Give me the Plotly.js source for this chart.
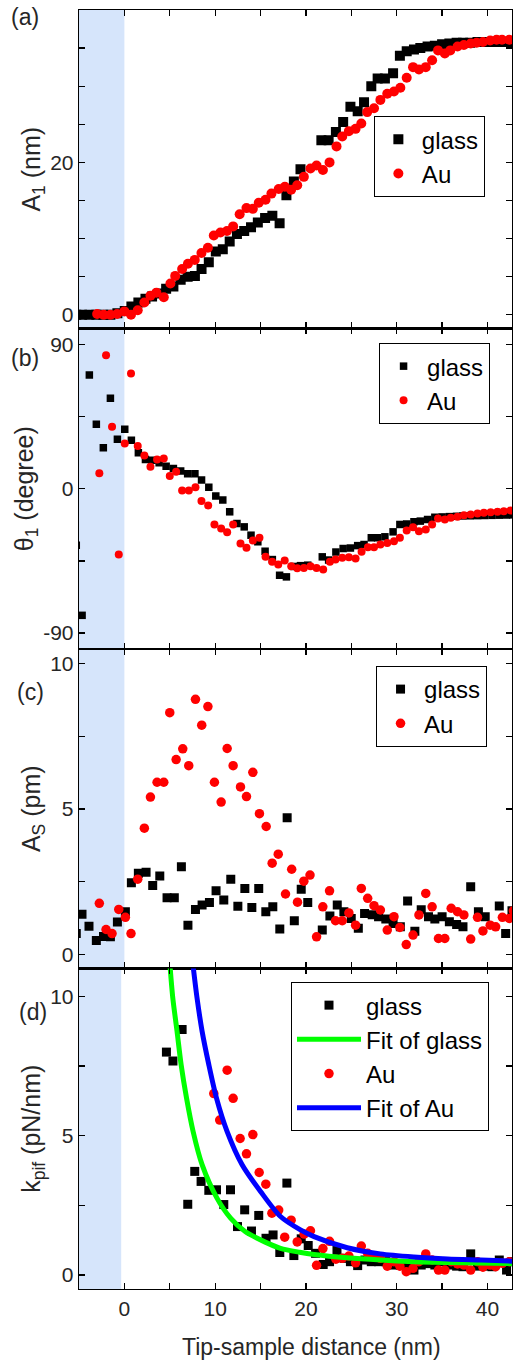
<!DOCTYPE html>
<html>
<head>
<meta charset="utf-8">
<script src="https://cdn.plot.ly/plotly-3.0.1.min.js"></script>
<style>
html,body{margin:0;padding:0;background:#fff;}
#chart{width:513px;height:1361px;}
</style>
</head>
<body>
<div id="chart"></div>
<script>
// ---------------- data ----------------
// Panel (a): A1 (nm)
const glassA_x = [-5.3,-4.66,-3.86,-3.09,-2.32,-1.54,-0.77,0.04,0.77,1.54,2.32,3.05,3.83,4.6,5.4,6.2,6.97,7.77,8.5,9.3,10.07,10.84,11.6,12.4,13.2,13.95,14.7,15.5,16.3,17.1,17.85,18.67,19.4,21.7,22.5,23.3,24.1,24.9,25.7,26.4,27.2,27.9,28.7,29.6,30.35,31.1,31.9,32.6,33.4,34.2,35.0,35.8,36.6,37.3,38.1,38.9,39.7,40.5,41.3,42.1,42.8];
const glassA_y = [0,0,0,0,0,0,0.2,0.5,1.1,1.6,2.1,2.4,2.8,3.4,3.7,4.6,5.0,5.1,6.0,6.9,8.3,8.6,9.6,10.6,11.0,11.5,12.1,12.7,13.0,12.0,15.7,17.5,19.1,22.9,22.9,24.0,25.3,27.3,26.7,27.9,30.0,31.0,31.0,31.7,34.0,34.6,34.8,35.0,35.2,35.3,35.5,35.6,35.7,35.7,35.7,35.8,35.8,35.8,35.8,35.8,35.8];
const auA_x = [-3.0,-2.28,-1.54,-0.8,0.0,0.73,1.47,2.2,2.87,3.53,4.34,5.07,5.6,6.36,7.0,7.75,8.49,9.2,9.85,10.58,11.3,11.98,12.7,13.45,14.15,14.8,15.55,16.2,17.0,17.68,18.37,19.04,19.77,20.5,21.17,21.87,22.6,23.37,24.0,24.73,25.47,26.1,26.75,27.5,28.2,28.96,29.7,30.4,31.1,31.8,32.45,33.2,33.9,34.55,35.3,35.9,36.7,37.4,38.15,38.8,39.5,40.3,41.0,41.6,42.4];
const auA_y = [0.1,0,0,0.1,0.44,0,0.6,1.6,2.5,2.9,2.3,4.1,5.1,6.0,6.7,7.2,8.1,8.8,10.4,10.8,11.0,11.6,13.2,14.0,13.9,14.7,15.1,15.9,16.5,16.8,16.4,17.0,18.1,19.2,19.6,19.0,20.0,22.1,23.4,24.1,24.4,25.1,26.6,27.1,28.2,29.0,29.3,29.8,31.1,32.5,32.2,32.5,33.4,34.7,34.3,34.7,35.2,35.4,35.6,35.7,35.8,36.0,36.1,36.1,36.1];

// Panel (b): theta1 (degree)
const glassB_x = [-5.3,-4.66,-3.86,-3.09,-2.32,-1.54,-0.77,0.04,0.77,1.54,2.32,3.05,3.83,4.6,5.4,6.2,6.97,7.77,8.5,9.3,10.07,10.84,11.6,12.4,13.2,13.95,14.7,15.5,16.3,17.1,17.85,18.67,19.4,20.2,21.8,22.5,23.3,24.1,24.9,25.7,26.4,27.2,27.9,28.7,29.6,30.35,31.1,31.9,32.6,33.4,34.2,35.0,35.8,36.6,37.3,38.1,38.9,39.7,40.5,41.3,42.1,42.8];
const glassB_y = [-35.3,-79.0,71.0,40.2,25.6,56.4,30.8,37.1,30.2,22.5,18.3,17.7,16.2,14.1,12.7,11.0,9.4,9.4,5.4,1.0,-4.6,-7.1,-14.4,-21.7,-23.8,-29.0,-33.1,-39.0,-44.2,-54.0,-55.0,-48.5,-48.0,-47.7,-42.5,-44.5,-39.5,-37.3,-37.0,-35.5,-34.8,-30.6,-30.6,-30.0,-26.9,-22.3,-22.0,-20.6,-20.2,-19.2,-17.8,-17.6,-17.4,-17.2,-17.0,-16.9,-16.8,-16.7,-16.6,-16.5,-16.4,-16.3];
const auB_x = [-2.76,-2.02,-1.36,-0.62,0.04,0.73,1.47,2.2,2.87,3.6,4.34,5.0,5.7,6.36,7.1,7.83,8.49,9.23,9.92,10.66,11.32,11.98,12.79,13.45,14.15,14.88,15.55,16.28,16.95,17.66,18.38,19.04,19.77,20.5,21.17,21.9,22.64,23.26,24.0,24.73,25.47,26.13,26.83,27.5,28.2,28.96,29.7,30.35,31.1,31.8,32.45,33.2,33.9,34.55,35.3,35.95,36.7,37.4,38.15,38.9,39.6,40.35,41.1,41.8,42.55];
const auB_y = [9.6,83.3,38.7,-41.1,28.3,71.9,26.6,20.8,13.7,18.3,18.9,7.9,10.6,-1.1,-1.1,1.0,-7.7,-10.4,-22.3,-24.8,-27.1,-22.3,-34.2,-36.9,-32.3,-30.6,-42.5,-45.6,-47.3,-44.8,-48.4,-49.6,-49.4,-48.4,-49.4,-50.4,-45.6,-44.2,-43.1,-42.7,-43.6,-39.4,-36.5,-36.5,-34.8,-33.8,-32.7,-30.6,-26.1,-24.0,-26.5,-25.4,-22.3,-18.6,-19.2,-18.1,-17.5,-16.5,-16.1,-15.4,-15.0,-14.6,-14.4,-14.0,-13.6];

// Panel (c): A_S (pm)
const glassC_x = [-5.3,-4.67,-3.9,-3.09,-2.3,-1.54,-0.77,0.11,0.77,1.54,2.39,3.12,3.9,4.7,5.5,6.28,7.0,7.83,8.56,9.37,10.1,10.95,11.72,12.5,13.27,14.04,14.8,15.58,16.35,17.12,17.93,18.72,19.48,20.2,21.8,22.64,23.45,24.18,24.99,25.77,26.46,27.3,28.0,28.8,29.6,30.4,31.2,32.0,32.7,33.5,34.2,35.0,35.8,36.6,37.3,38.15,39.0,39.75,41.3,42.0,42.7];
const glassC_y = [0.72,1.38,0.97,0.48,0.62,0.61,1.12,1.47,2.47,2.79,2.83,2.37,2.70,1.95,1.95,3.02,1.01,1.55,1.70,1.79,2.19,1.87,2.59,1.66,2.27,1.62,2.27,1.47,1.64,0.88,4.70,1.16,2.24,1.79,0.84,1.32,1.70,1.47,1.24,0.90,1.41,1.37,1.30,1.22,1.07,0.95,1.84,0.80,1.54,1.30,1.22,1.30,1.13,1.03,0.95,2.33,1.47,1.30,1.67,0.72,1.50];
const auC_x = [-2.76,-2.02,-1.36,-0.62,0.11,0.73,1.47,2.2,2.87,3.6,4.34,5.0,5.7,6.43,7.09,7.83,8.52,9.2,9.92,10.66,11.32,11.98,12.79,13.45,14.15,14.88,15.62,16.28,16.95,17.75,18.43,19.07,19.77,20.45,21.17,21.86,22.6,23.26,24.0,24.73,25.47,26.1,26.8,27.5,28.2,28.96,29.7,30.35,31.05,31.8,32.45,33.2,33.9,34.6,35.3,36.0,36.7,37.4,38.15,38.9,39.5,40.3,40.9,41.64,42.4,42.85];
const auC_y = [1.76,0.86,0.72,1.55,1.28,0.72,2.59,4.34,5.41,5.92,5.92,8.31,6.7,7.07,6.49,8.77,7.88,8.52,5.92,5.24,7.08,6.49,5.76,5.43,6.26,4.84,4.40,3.14,3.45,2.08,2.93,1.80,2.52,2.73,0.61,1.64,2.19,1.16,1.16,1.43,1.01,2.27,1.93,1.68,1.53,0.84,1.30,0.93,0.34,0.67,1.36,2.10,1.64,0.55,0.55,1.59,1.47,1.36,0.53,1.28,0.81,1.01,0.95,1.28,1.24,1.50];

// Panel (d): k_pif (pN/nm)
const glassD_x = [4.63,5.35,6.36,6.98,7.75,8.45,9.3,10.15,10.95,11.69,12.46,13.25,14.0,14.8,15.6,16.38,17.12,17.9,18.67,19.48,20.25,21.06,21.9,22.6,23.42,24.2,24.9,25.7,26.5,27.2,28.0,28.8,29.6,30.4,31.2,31.9,32.7,33.5,34.2,35.0,35.8,36.6,37.3,38.15,38.9,39.7,40.5,41.3,42.1,42.7];
const glassD_y = [8.0,7.68,8.81,2.54,3.72,3.36,3.04,3.06,2.53,3.06,1.74,2.34,1.58,2.14,1.32,1.44,0.81,3.30,0.70,1.30,1.06,0.78,0.38,0.48,0.88,0.60,0.48,0.34,0.54,0.48,0.48,0.48,0.36,0.36,0.30,0.18,0.36,0.41,0.36,0.48,0.36,0.32,0.30,0.76,0.32,0.32,0.30,0.54,0.18,0.48];
const auD_x = [9.85,10.5,11.32,11.98,12.75,13.45,14.15,14.85,15.58,16.25,17.0,17.66,18.37,19.04,19.8,20.5,21.17,21.87,22.6,23.3,24.0,24.73,25.47,26.1,26.8,27.5,28.2,28.96,29.7,30.35,31.05,31.8,32.45,33.2,33.9,34.6,35.3,36.0,36.7,37.4,38.15,38.9,39.5,40.3,40.9,41.64,42.4];
const auD_y = [6.51,5.56,7.35,6.34,4.9,4.35,5.04,3.68,3.26,2.22,2.33,1.36,1.97,1.19,1.47,1.59,0.35,0.95,1.21,0.57,0.60,0.68,0.44,1.04,0.78,0.68,0.60,0.32,0.48,0.32,0.12,0.24,0.48,0.76,0.54,0.18,0.18,0.48,0.40,0.36,0.18,0.48,0.28,0.36,0.30,0.42,0.48];
const fitGlass_x = [5.0,5.33,5.8,6.25,6.84,7.57,8.56,10.2,11.7,13.3,15.4,17.2,19.3,20.9,24.55,28.2,31.9,35.5,39.0,42.7];
const fitGlass_y = [11.2,9.95,8.75,7.55,6.36,5.15,3.96,2.76,2.04,1.56,1.2,0.96,0.82,0.74,0.62,0.54,0.48,0.45,0.43,0.41];
const fitAu_x = [7.53,8.0,8.56,9.3,10.14,11.32,12.97,15.0,17.2,19.4,20.9,24.55,28.2,31.9,35.6,39.3,42.7];
const fitAu_y = [11.2,9.95,8.75,7.55,6.36,5.15,3.96,3.0,2.1,1.62,1.38,0.98,0.76,0.65,0.58,0.54,0.50];

// Axis ticks / labels (major ticks carry labels, minor ticks are unlabeled)
const xTickVals = [0,10,20,30,40];
const xTickText = ['0','10','20','30','40'];
const xMinorVals = [5,15,25,35];
const aTickVals = [0,20,40];
const aTickText = ['0','20','40'];
const aMinorVals = [5,10,15,25,30,35];
const bTickVals = [-90,0,90];
const bTickText = ['-90','0','90'];
const bMinorVals = [-45,45];
const cTickVals = [0,5,10];
const cTickText = ['0','5','10'];
const cMinorVals = [2.5,7.5];
const dTickVals = [0,5,10];
const dTickText = ['0','5','10'];
const dMinorVals = [2.5,7.5];
const contactEnd = [0,0,0,-0.35]; // shaded contact region right edge per panel

// ---------------- styling ----------------
const FONT = 'Liberation Sans, Arial, Helvetica, sans-serif';
const TXT = '#262626';
const BLACK = '#000000';
const RED = '#ff0000';

function sq(x,y,size,name){
  return {x:x,y:y,mode:'markers',type:'scatter',name:name,
    marker:{symbol:'square',size:size,color:BLACK,line:{width:0}}};
}
function ci(x,y,size,name){
  return {x:x,y:y,mode:'markers',type:'scatter',name:name,
    marker:{symbol:'circle',size:size,color:RED,line:{width:0}}};
}

const traces = [];
let t;
t = sq(glassA_x,glassA_y,10,'glass'); t.xaxis='x'; t.yaxis='y'; t.legend='legend'; traces.push(t);
t = ci(auA_x,auA_y,10,'Au'); t.xaxis='x'; t.yaxis='y'; t.legend='legend'; traces.push(t);
t = sq(glassB_x,glassB_y,7.5,'glass'); t.xaxis='x2'; t.yaxis='y2'; t.legend='legend2'; traces.push(t);
t = ci(auB_x,auB_y,8,'Au'); t.xaxis='x2'; t.yaxis='y2'; t.legend='legend2'; traces.push(t);
t = sq(glassC_x,glassC_y,9,'glass'); t.xaxis='x3'; t.yaxis='y3'; t.legend='legend3'; traces.push(t);
t = ci(auC_x,auC_y,9.5,'Au'); t.xaxis='x3'; t.yaxis='y3'; t.legend='legend3'; traces.push(t);
t = sq(glassD_x,glassD_y,9,'glass'); t.xaxis='x4'; t.yaxis='y4'; t.legend='legend4'; t.legendrank=1; traces.push(t);
t = ci(auD_x,auD_y,9.5,'Au'); t.xaxis='x4'; t.yaxis='y4'; t.legend='legend4'; t.legendrank=3; traces.push(t);
traces.push({x:fitGlass_x,y:fitGlass_y,mode:'lines',type:'scatter',name:'Fit of glass',
  line:{color:'#00ff00',width:5,shape:'spline',smoothing:0.8},xaxis:'x4',yaxis:'y4',legend:'legend4',legendrank:2});
traces.push({x:fitAu_x,y:fitAu_y,mode:'lines',type:'scatter',name:'Fit of Au',
  line:{color:'#0000ff',width:5,shape:'spline',smoothing:0.8},xaxis:'x4',yaxis:'y4',legend:'legend4',legendrank:4});

const axCommon = {
  showline:true, linecolor:BLACK, linewidth:1.3, mirror:'ticks',
  ticks:'inside', ticklen:6, tickwidth:1.3, tickcolor:BLACK,
  showgrid:false, zeroline:false, fixedrange:true,
  tickfont:{family:FONT,size:21,color:TXT}
};
function minorTicks(vals){
  return {tickmode:'array', tickvals:vals, ticks:'inside', ticklen:6, tickwidth:1.3, tickcolor:BLACK, showgrid:false};
}
function xax(anchor,labels){
  return Object.assign({},axCommon,{
    anchor:anchor, domain:[0,1], range:[-5,42.7],
    tickmode:'array', tickvals:xTickVals, ticktext:xTickText,
    minor:minorTicks(xMinorVals),
    showticklabels:labels
  });
}
function yax(domain,range,vals,text,minor,title){
  return Object.assign({},axCommon,{
    domain:domain, range:range, tickmode:'array', tickvals:vals, ticktext:text,
    minor:minorTicks(minor),
    title:{text:title, font:{family:FONT,size:25,color:TXT}, standoff:2}
  });
}
const legCommon = {
  bordercolor:BLACK, borderwidth:1, bgcolor:'#ffffff',
  font:{family:FONT,size:24,color:BLACK}, xanchor:'left', yanchor:'top',
  tracegroupgap:0, itemwidth:37
};

const layout = {
  width:513, height:1361,
  margin:{l:79,r:1,t:10,b:72,pad:0},
  paper_bgcolor:'#ffffff', plot_bgcolor:'rgba(0,0,0,0)',
  font:{family:FONT,color:TXT},
  xaxis:xax('y',false),
  xaxis2:Object.assign(xax('y2',false),{matches:'x'}),
  xaxis3:Object.assign(xax('y3',false),{matches:'x'}),
  xaxis4:Object.assign(xax('y4',true),{matches:'x'}),
  yaxis:yax([0.751,1],[-1.8,40],aTickVals,aTickText,aMinorVals,'A<sub>1</sub> (nm)'),
  yaxis2:yax([0.5004,0.751],[-100,100],bTickVals,bTickText,bMinorVals,'θ<sub>1</sub> (degree)'),
  yaxis3:yax([0.2506,0.5004],[-0.48,10.5],cTickVals,cTickText,cMinorVals,'A<sub>S</sub> (pm)'),
  yaxis4:yax([0,0.2506],[-0.5,11],dTickVals,dTickText,dMinorVals,'k<sub>pif</sub> (pN/nm)'),
  legend:Object.assign({},legCommon,{x:0.681,y:0.917}),
  legend2:Object.assign({},legCommon,{x:0.693,y:0.7396}),
  legend3:Object.assign({},legCommon,{x:0.686,y:0.4871}),
  legend4:Object.assign({},legCommon,{x:0.4896,y:0.240,traceorder:'normal',itemwidth:64}),
  shapes:['x','x2','x3','x4'].map((xr,i)=>({
    type:'rect', xref:xr, yref:(i===0?'y':'y'+(i+1))+' domain',
    x0:-5, x1:contactEnd[i], y0:0, y1:1,
    fillcolor:'rgb(214,229,251)', line:{width:0}, layer:'below'
  })),
  annotations:[
    {text:'(a)',x:-0.125,y:0.9945,xref:'paper',yref:'paper',showarrow:false,font:{family:FONT,size:23,color:TXT},xanchor:'center',yanchor:'middle'},
    {text:'(b)',x:-0.125,y:0.7279,xref:'paper',yref:'paper',showarrow:false,font:{family:FONT,size:23,color:TXT},xanchor:'center',yanchor:'middle'},
    {text:'(c)',x:-0.113,y:0.467,xref:'paper',yref:'paper',showarrow:false,font:{family:FONT,size:23,color:TXT},xanchor:'center',yanchor:'middle'},
    {text:'(d)',x:-0.106,y:0.2168,xref:'paper',yref:'paper',showarrow:false,font:{family:FONT,size:23,color:TXT},xanchor:'center',yanchor:'middle'},
    {text:'Tip-sample distance (nm)',x:0.538,y:-0.0453,xref:'paper',yref:'paper',showarrow:false,font:{family:FONT,size:23,color:TXT},xanchor:'center',yanchor:'middle'}
  ]
};

Plotly.newPlot('chart',traces,layout,{staticPlot:true,displayModeBar:false});
</script>
</body>
</html>
